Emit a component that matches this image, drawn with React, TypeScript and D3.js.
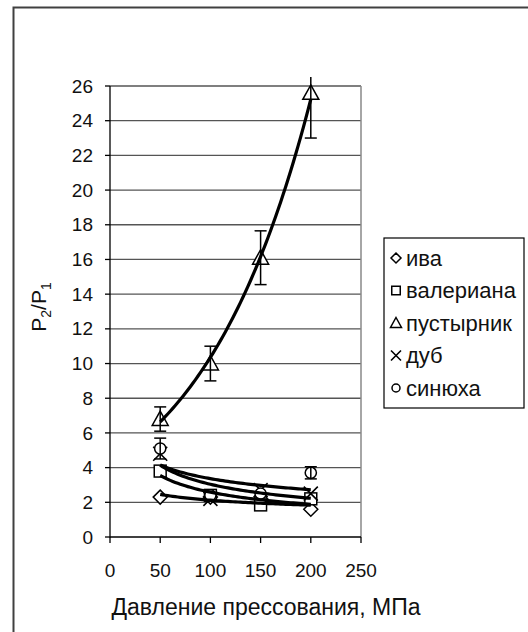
import React from 'react';
import * as d3 from 'd3';

const pressures = [50, 100, 150, 200];
const seriesNames = ['ива', 'валериана', 'пустырник', 'дуб', 'синюха'];
const iva = [2.3, 2.3, 2.2, 1.6];
const valeriana = [3.8, 2.4, 1.85, 2.2];
const pustyrnik = [6.8, 10, 16.1, 25.6];
const pustyrnikErr = [0.7, 1.0, 1.55, 2.6];
const dub = [4.8, 2.2, 2.7, 2.5];
const sinyukha = [5.1, 2.4, 2.5, 3.7];
const sinyukhaErr = [0.6, 0, 0, 0.35];
const yTicks = d3.range(0, 27, 2);
const xTicks = [0, 50, 100, 150, 200, 250];

const FONT = "Arial, 'Liberation Sans', sans-serif";

// least squares in log space
const powerFit = (xs: number[], ys: number[]) => {
  const lx = xs.map(Math.log), ly = ys.map(Math.log);
  const mx = d3.mean(lx)!, my = d3.mean(ly)!;
  const b = d3.sum(lx, (v, i) => (v - mx) * (ly[i] - my)) / d3.sum(lx, v => (v - mx) ** 2);
  return (x: number) => Math.exp(my + b * (Math.log(x) - mx));
};
const expFit = (xs: number[], ys: number[]) => {
  const ly = ys.map(Math.log);
  const mx = d3.mean(xs)!, my = d3.mean(ly)!;
  const b = d3.sum(xs, (v, i) => (v - mx) * (ly[i] - my)) / d3.sum(xs, v => (v - mx) ** 2);
  return (x: number) => Math.exp(my + b * (x - mx));
};

const marker = (kind: string, cx: number, cy: number, s: number, key?: any) => {
  const p = { fill: 'white', stroke: 'black', strokeWidth: 1.5 };
  if (kind === 'diamond')
    return <path key={key} d={`M${cx},${cy - s}L${cx + s},${cy}L${cx},${cy + s}L${cx - s},${cy}Z`} {...p} />;
  if (kind === 'square')
    return <rect key={key} x={cx - s * 0.85} y={cy - s * 0.85} width={s * 1.7} height={s * 1.7} {...p} />;
  if (kind === 'triangle')
    return <path key={key} d={`M${cx},${cy - s}L${cx + s},${cy + s * 0.8}L${cx - s},${cy + s * 0.8}Z`} {...p} />;
  if (kind === 'x')
    return <path key={key} d={`M${cx - s},${cy - s}L${cx + s},${cy + s}M${cx + s},${cy - s}L${cx - s},${cy + s}`} fill="none" stroke="black" strokeWidth={1.6} />;
  return <circle key={key} cx={cx} cy={cy} r={s * 0.8} {...p} />;
};

export default function App() {
  const x = d3.scaleLinear().domain([0, 250]).range([110, 361]);
  const y = d3.scaleLinear().domain([0, 26]).range([537, 86]);

  const series = [
    { name: seriesNames[0], vals: iva, kind: 'diamond', fit: powerFit(pressures, iva) },
    { name: seriesNames[1], vals: valeriana, kind: 'square', fit: powerFit(pressures, valeriana) },
    { name: seriesNames[2], vals: pustyrnik, kind: 'triangle', fit: expFit(pressures, pustyrnik), err: pustyrnikErr },
    { name: seriesNames[3], vals: dub, kind: 'x', fit: powerFit(pressures, dub) },
    { name: seriesNames[4], vals: sinyukha, kind: 'circle', fit: powerFit(pressures, sinyukha), err: sinyukhaErr },
  ];

  const trendX = d3.range(50, 200.01, 2.5);

  return (
    <svg width={528} height={632} style={{ position: 'absolute', left: 0, top: 0, background: 'white' }} fontFamily={FONT}>
      <defs>
        <clipPath id="errclip"><rect x={0} y={77} width={528} height={500} /></clipPath>
      </defs>
      <rect x={13.5} y={7.5} width={700} height={800} fill="white" stroke="#404040" strokeWidth={2} />

      {/* grid */}
      {yTicks.filter(t => t > 0).map(t => (
        <line key={t} x1={x(0)} x2={x(250)} y1={y(t)} y2={y(t)} stroke="#555" strokeWidth={1.3} />
      ))}
      <line x1={x(250)} x2={x(250)} y1={y(26)} y2={y(0)} stroke="#888" strokeWidth={1.5} />

      {/* axes */}
      <line x1={x(0)} x2={x(0)} y1={y(26)} y2={y(0) + 0.5} stroke="black" strokeWidth={1.3} />
      <line x1={x(0)} x2={x(250)} y1={y(0)} y2={y(0)} stroke="black" strokeWidth={1.3} />
      {yTicks.map(t => (
        <g key={t}>
          <line x1={x(0) - 5} x2={x(0)} y1={y(t)} y2={y(t)} stroke="black" strokeWidth={1.3} />
          <text x={93} y={y(t)} dy="0.35em" textAnchor="end" fontSize={19} fill="#111">{t}</text>
        </g>
      ))}
      {xTicks.map(t => (
        <g key={t}>
          <line x1={x(t)} x2={x(t)} y1={y(0)} y2={y(0) + 6} stroke="black" strokeWidth={1.3} />
          <text x={x(t)} y={577} textAnchor="middle" fontSize={19} fill="#111">{t}</text>
        </g>
      ))}

      <text x={266} y={615} textAnchor="middle" fontSize={23} fill="#111">Давление прессования, МПа</text>
      <text transform="translate(46,307) rotate(-90)" textAnchor="middle" fontSize={21} fill="#111">
        P<tspan fontSize={14} dy={5}>2</tspan><tspan dy={-5}>/P</tspan><tspan fontSize={14} dy={5}>1</tspan>
      </text>

      {/* markers */}
      {series.map(s => (
        <g key={s.name}>
          {s.vals.map((v, i) => marker(s.kind, x(pressures[i]), y(v), s.kind === 'triangle' ? 8 : 7, i))}
        </g>
      ))}

      {/* error bars */}
      <g clipPath="url(#errclip)" stroke="black" strokeWidth={1.5}>
        {series.filter(s => s.err).map(s => s.vals.map((v, i) => {
          const e = s.err![i];
          if (!e) return null;
          const cx = x(pressures[i]);
          return (
            <g key={s.name + i}>
              <line x1={cx} x2={cx} y1={y(v + e)} y2={y(v - e)} />
              <line x1={cx - 6} x2={cx + 6} y1={y(v + e)} y2={y(v + e)} />
              <line x1={cx - 6} x2={cx + 6} y1={y(v - e)} y2={y(v - e)} />
            </g>
          );
        }))}
      </g>

      {/* trend lines */}
      {series.map(s => (
        <path key={s.name} d={d3.line<number>().x(d => x(d)).y(d => y(s.fit(d)))(trendX)!}
          fill="none" stroke="black" strokeWidth={3.2} strokeLinejoin="round" />
      ))}

      {/* legend */}
      <rect x={384} y={238} width={140} height={170} fill="white" stroke="black" strokeWidth={1.2} />
      {series.map((s, i) => {
        const ly = 258 + i * 32.5;
        return (
          <g key={s.name}>
            {marker(s.kind, 396, ly, s.kind === 'triangle' ? 5.5 : 5)}
            <text x={406} y={ly} dy="0.35em" fontSize={22} fill="#111">{s.name}</text>
          </g>
        );
      })}
    </svg>
  );
}
